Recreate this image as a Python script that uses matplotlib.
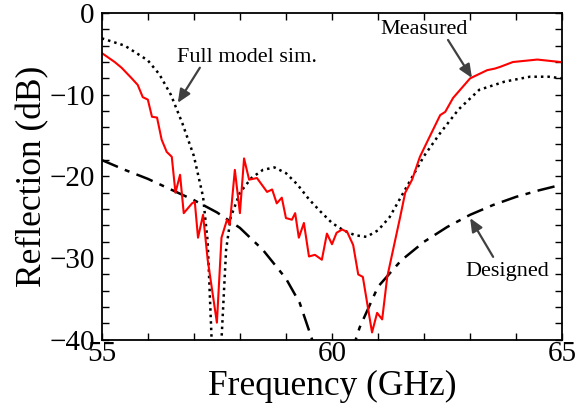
import numpy as np
import matplotlib
matplotlib.use('Agg')
import matplotlib.pyplot as plt
from matplotlib.ticker import MultipleLocator

plt.rcParams['font.family'] = ['Liberation Serif', 'DejaVu Serif']
plt.rcParams['mathtext.fontset'] = 'stix'

# measured reflection (red)
meas_f = [55.0, 55.28, 55.43, 55.65, 55.78, 55.89, 56.0, 56.09, 56.2, 56.3, 56.41, 56.52,
          56.6, 56.7, 56.78, 56.96, 57.02, 57.09, 57.2, 57.3, 57.5, 57.6, 57.72, 57.78,
          57.89, 58.0, 58.09, 58.2, 58.37, 58.59, 58.7, 58.8, 58.91, 59.0, 59.13, 59.2,
          59.28, 59.39, 59.5, 59.63, 59.78, 59.89, 60.0, 60.1, 60.22, 60.33, 60.46, 60.57,
          60.67, 60.87, 60.98, 61.09, 61.2, 61.48, 61.59, 61.74, 61.91, 62.09, 62.35, 62.46,
          62.63, 63.0, 63.37, 63.54, 63.65, 63.93, 64.46, 64.96, 65.0]
meas_db = [-4.9, -6.0, -6.7, -8.0, -8.8, -10.3, -10.6, -12.7, -12.8, -15.5, -17.0, -17.6,
           -22.0, -19.8, -24.5, -23.3, -23.1, -27.5, -24.7, -30.2, -37.9, -27.5, -25.3, -25.9,
           -19.2, -24.5, -17.8, -20.4, -20.2, -21.9, -21.6, -23.3, -22.6, -25.1, -25.3, -24.5,
           -27.5, -25.7, -29.8, -29.6, -30.2, -27.0, -28.3, -26.9, -26.5, -26.8, -28.4, -32.0,
           -32.3, -39.1, -36.7, -37.5, -32.3, -25.0, -22.0, -20.4, -17.6, -15.5, -12.5, -12.1,
           -10.4, -8.0, -7.0, -6.8, -6.6, -6.0, -5.7, -6.0, -6.0]

# full model simulation (dotted)
sim_f = [55.0, 55.5, 56.0, 56.25, 56.5, 56.75, 57.0, 57.2, 57.3, 57.4, 57.5, 57.6, 57.7,
         57.8, 58.0, 58.25, 58.5, 58.75, 59.0, 59.25, 59.5, 59.75, 60.0, 60.25, 60.5, 60.75,
         61.0, 61.25, 61.5, 61.75, 62.0, 62.35, 62.75, 63.2, 63.75, 64.3, 64.7, 65.0]
sim_db = [-3.1, -4.0, -5.8, -7.5, -10.0, -13.5, -17.5, -22.5, -28.0, -42.0, -50.0, -40.0, -29.0,
          -25.0, -22.0, -20.2, -19.2, -18.9, -19.6, -21.0, -22.8, -24.3, -25.7, -26.6, -27.2, -27.4,
          -26.6, -25.0, -22.5, -20.0, -17.5, -14.7, -11.8, -9.4, -8.4, -7.8, -7.8, -8.0]

# designed response (dash-dot)
des_f = [55.0, 55.5, 56.0, 56.5, 57.0, 57.5, 58.0, 58.5, 59.0, 59.3, 59.6, 60.0, 60.4,
         60.6, 61.0, 61.5, 62.0, 62.5, 63.0, 63.5, 64.0, 64.5, 65.0]
des_db = [-18.0, -19.2, -20.3, -21.6, -22.9, -24.4, -26.3, -29.0, -32.5, -35.5, -40.5, -48.0, -42.0,
          -38.5, -33.5, -30.3, -28.0, -26.2, -24.7, -23.5, -22.5, -21.7, -21.0]

fig = plt.figure(figsize=(5.85, 4.19), dpi=100)
ax = fig.add_axes([0.174, 0.189, 0.787, 0.780])

ax.plot(des_f, des_db, color='black', lw=1.8, linestyle=(0, (7, 3, 2, 3)))
ax.plot(sim_f, sim_db, color='black', lw=1.8, linestyle=(0, (1, 1.6)))
ax.plot(meas_f, meas_db, color='red', lw=1.5)

ax.set_xlim(55, 65)
ax.set_ylim(-40, 0)
ax.xaxis.set_major_locator(MultipleLocator(5))
ax.xaxis.set_minor_locator(MultipleLocator(1))
ax.yaxis.set_major_locator(MultipleLocator(10))
ax.yaxis.set_minor_locator(MultipleLocator(2))
ax.tick_params(which='both', direction='in', top=True, right=True, length=5, width=1,
               labelsize=21)
ax.tick_params(axis='x', pad=1)
ax.tick_params(axis='y', pad=5)
for s in ax.spines.values():
    s.set_linewidth(1.3)

ax.set_xlabel('Frequency (GHz)', fontsize=25.5, labelpad=2)
ax.set_ylabel('Reflection (dB)', fontsize=25.5, labelpad=0)

arr = dict(arrowstyle='-|>,head_length=0.8,head_width=0.35', color='#404040', lw=1.6,
           shrinkA=0, shrinkB=0)
ax.text(58.15, -5.4, 'Full model sim.', fontsize=16, ha='center', va='center')
ax.annotate('', xy=(56.65, -11.0), xytext=(57.13, -6.7), arrowprops=arr)
ax.text(62.0, -2.0, 'Measured', fontsize=16, ha='center', va='center')
ax.annotate('', xy=(63.04, -7.95), xytext=(62.52, -3.3), arrowprops=arr)
ax.text(63.8, -31.6, 'Designed', fontsize=16, ha='center', va='center')
ax.annotate('', xy=(63.0, -25.1), xytext=(63.5, -29.85), arrowprops=arr)

plt.savefig('out.png', dpi=100)
